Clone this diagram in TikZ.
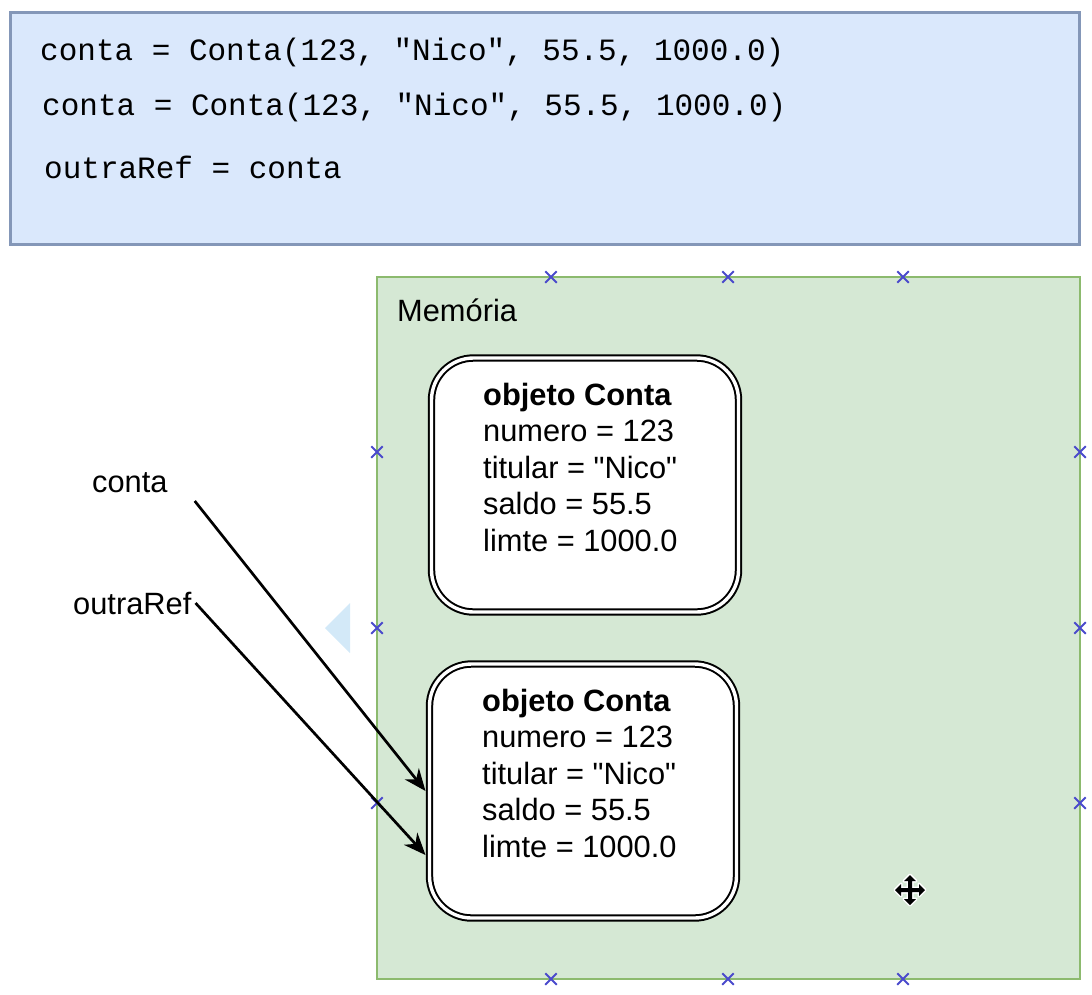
\documentclass[tikz,border=0pt]{standalone}
\usepackage{fontspec}
\setmainfont{Liberation Sans}
\newfontfamily\codefont{Liberation Mono}
\usetikzlibrary{arrows.meta,shapes.misc}
\definecolor{codefill}{HTML}{DAE8FC}
\definecolor{codeline}{HTML}{8497B8}
\definecolor{memfill}{HTML}{D5E8D4}
\definecolor{memline}{HTML}{8CBA6E}
\definecolor{xblue}{HTML}{4A4ACC}
\definecolor{tri}{HTML}{D3E9F8}
\tikzset{
  codetxt/.style={anchor=base west, inner sep=0pt, font=\codefont\fontsize{31}{36}\selectfont},
  txt/.style={anchor=base west, inner sep=0pt, font=\fontsize{30.8}{36}\selectfont},
  btxt/.style={anchor=base west, inner sep=0pt, font=\fontsize{30.8}{36}\selectfont\bfseries},
  objbox/.style={draw=black, fill=white, rounded corners=42pt, double=white, double distance=3.4pt, line width=2pt, minimum width=307pt, minimum height=254pt, inner sep=0pt},
  xmark/.style={draw=xblue, cross out, minimum size=9.5pt, inner sep=0pt, line width=2pt},
  arr/.style={line width=2.7pt, -{Stealth[length=22pt, width=18pt, inset=7pt]}}
}
\begin{document}
\begin{tikzpicture}[x=1pt,y=-1pt]
\useasboundingbox (0,0) rectangle (1092,994);
% code box
\node[draw=codeline, fill=codefill, line width=2.4pt, minimum width=1069pt, minimum height=232pt, inner sep=0pt] (codebox) at (545,128.5) {};
\node[codetxt] (c1) at (40,60) {conta = Conta(123, "Nico", 55.5, 1000.0)};
\node[codetxt] (c2) at (42,115) {conta = Conta(123, "Nico", 55.5, 1000.0)};
\node[codetxt] (c3) at (44,178) {outraRef = conta};
% memory box
\node[draw=memline, fill=memfill, line width=2.2pt, minimum width=703pt, minimum height=702pt, inner sep=0pt] (mem) at (728.5,628) {};
\node[txt] (memlbl) at (397,321) {Memória};
% markers
\foreach \x/\n in {551/a,728/b,903/c}{
  \node[xmark] (mt\n) at (\x,277) {};
  \node[xmark] (mb\n) at (\x,979) {};
}
\foreach \y/\n in {452/a,628/b,803/c}{
  \node[xmark] (ml\n) at (377,\y) {};
  \node[xmark] (mr\n) at (1080,\y) {};
}
% object boxes
\node[objbox] (obj1) at (585,485) {};
\node[btxt] (o1a) at (483,405) {objeto Conta};
\node[txt] (o1b) at (483,441.5) {numero = 123};
\node[txt] (o1c) at (483,478) {titular = \textquotedbl Nico\textquotedbl};
\node[txt] (o1d) at (483,514.5) {saldo = 55.5};
\node[txt] (o1e) at (483,551) {limte = 1000.0};
\node[objbox] (obj2) at (583,791) {};
\node[btxt] (o2a) at (482,711) {objeto Conta};
\node[txt] (o2b) at (482,747.5) {numero = 123};
\node[txt] (o2c) at (482,784) {titular = \textquotedbl Nico\textquotedbl};
\node[txt] (o2d) at (482,820.5) {saldo = 55.5};
\node[txt] (o2e) at (482,857) {limte = 1000.0};
% labels
\node[txt] (lconta) at (92,492) {conta};
\node[txt] (lref) at (73,614) {outraRef};
% arrows
\draw[arr] ([xshift=27pt,yshift=-9pt]lconta.base east) -- ([xshift=-3pt]obj2.west);
\draw[arr] ([xshift=4pt,yshift=11pt]lref.base east) -- ([xshift=-3pt,yshift=-64pt]obj2.west);
% light blue triangle
\fill[tri] (325,628) -- (350,603) -- (350,653) -- cycle;
% move icon
\begin{scope}[shift={(910,890)}]
\path[draw=white, line width=3pt, line join=round, fill=white] (0,-15) -- (6,-9) -- (2,-9) -- (2,-2) -- (9,-2) -- (9,-6) -- (15,0) -- (9,6) -- (9,2) -- (2,2) -- (2,9) -- (6,9) -- (0,15) -- (-6,9) -- (-2,9) -- (-2,2) -- (-9,2) -- (-9,6) -- (-15,0) -- (-9,-6) -- (-9,-2) -- (-2,-2) -- (-2,-9) -- (-6,-9) -- cycle;
\fill[black] (0,-15) -- (6,-9) -- (2,-9) -- (2,-2) -- (9,-2) -- (9,-6) -- (15,0) -- (9,6) -- (9,2) -- (2,2) -- (2,9) -- (6,9) -- (0,15) -- (-6,9) -- (-2,9) -- (-2,2) -- (-9,2) -- (-9,6) -- (-15,0) -- (-9,-6) -- (-9,-2) -- (-2,-2) -- (-2,-9) -- (-6,-9) -- cycle;
\end{scope}
\end{tikzpicture}
\end{document}
